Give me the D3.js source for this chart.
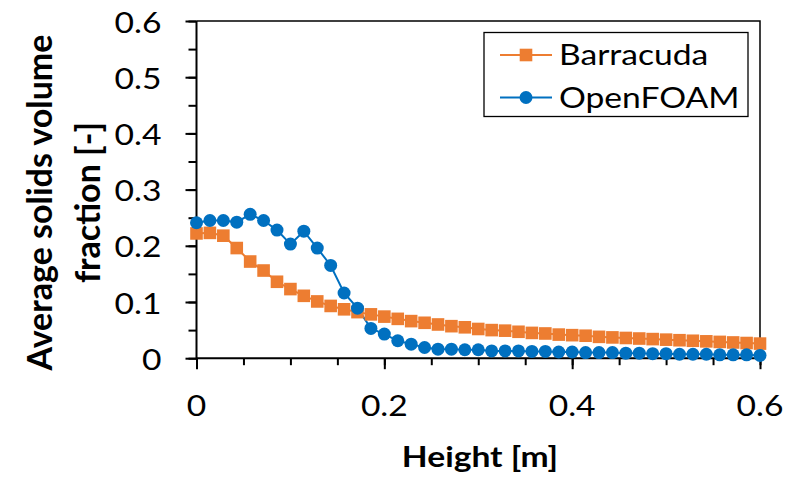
<!DOCTYPE html>
<html><head><meta charset="utf-8">
<script src="https://cdn.jsdelivr.net/npm/d3@7"></script>
<style>body{margin:0;background:#fff}svg{display:block}text{font-family:Lato,"Open Sans",sans-serif;fill:#000}</style>
</head><body><svg id="c" width="797" height="477"></svg>
<script>
const heights = d3.range(43).map(i => i / 70);
const barracuda = [0.222,0.223,0.218,0.196,0.172,0.156,0.136,0.123,0.111,0.101,0.093,0.087,0.082,0.078,0.074,0.070,0.066,0.063,0.060,0.057,0.055,0.052,0.050,0.049,0.047,0.045,0.044,0.042,0.041,0.040,0.038,0.037,0.036,0.035,0.034,0.033,0.032,0.031,0.030,0.029,0.028,0.027,0.026];
const openfoam = [0.241,0.245,0.245,0.242,0.256,0.245,0.228,0.203,0.226,0.196,0.165,0.116,0.089,0.053,0.043,0.031,0.025,0.019,0.016,0.016,0.015,0.015,0.013,0.013,0.013,0.012,0.012,0.011,0.011,0.010,0.010,0.010,0.009,0.009,0.008,0.008,0.007,0.007,0.007,0.006,0.006,0.006,0.005];
const xTicks = [0, 0.2, 0.4, 0.6];
const yTicks = [0, 0.1, 0.2, 0.3, 0.4, 0.5, 0.6];
const seriesNames = ["Barracuda", "OpenFOAM"];
const colors = ["#ED7D31", "#0070C0"];
const SX = 1.2; // horizontal stretch of the original picture's text

const svg = d3.select("#c");
svg.append("rect").attr("width",797).attr("height",477).attr("fill","#fff");
const x = d3.scaleLinear().domain([0,0.6]).range([196.5,760]);
const y = d3.scaleLinear().domain([0,0.6]).range([358.2,21]);
const fmt = d => d === 0 ? "0" : d3.format(".1f")(d);

function stext(px, py, anchor, str, size, weight){
  return svg.append("text").attr("transform",`translate(${px},${py}) scale(${SX},1)`)
    .attr("text-anchor",anchor).style("font-size",size+"px").style("font-weight",weight||"normal").text(str);
}

// plot border (top & right)
svg.append("path").attr("d",`M${x(0)},${y(0.6)}H${x(0.6)}V${y(0)}`).attr("fill","none").attr("stroke","#000").attr("stroke-width",1.5);

// ticks
const minorY = d3.range(0,0.6001,0.05);
const minorX = d3.range(0,0.6001,0.05);
svg.append("g").attr("transform",`translate(${x(0)},0)`).call(d3.axisLeft(y).tickValues(minorY).tickSize(8).tickFormat(""));
svg.append("g").attr("transform",`translate(${x(0)},0)`).call(d3.axisLeft(y).tickValues(yTicks).tickSize(11).tickFormat(""));
svg.append("g").attr("transform",`translate(0,${y(0)})`).call(d3.axisBottom(x).tickValues(minorX).tickSize(7).tickFormat(""));
svg.append("g").attr("transform",`translate(0,${y(0)})`).call(d3.axisBottom(x).tickValues(xTicks).tickSize(11).tickFormat(""));
svg.selectAll(".domain").remove();
svg.selectAll(".tick line").attr("stroke","#000").attr("stroke-width",2);
svg.append("path").attr("d",`M${x(0)},${y(0.6)}V${y(0)}H${x(0.6)}`).attr("fill","none").attr("stroke","#000").attr("stroke-width",2);

// tick labels
yTicks.forEach(t => stext(161.5, y(t)+11.5, "end", fmt(t), 28));
xTicks.forEach(t => stext(x(t), 416, "middle", fmt(t), 28));

// series
const data = [barracuda, openfoam];
const line = d3.line().x((d,i)=>x(heights[i])).y(d=>y(d));
data.forEach((s,k)=>{
  svg.append("path").datum(s).attr("d",line).attr("fill","none").attr("stroke",colors[k]).attr("stroke-width",2);
});
svg.append("g").selectAll("rect").data(barracuda).join("rect")
  .attr("x",(d,i)=>x(heights[i])-6.3).attr("y",d=>y(d)-6.3).attr("width",12.6).attr("height",12.6).attr("fill",colors[0]);
svg.append("g").selectAll("circle").data(openfoam).join("circle")
  .attr("cx",(d,i)=>x(heights[i])).attr("cy",d=>y(d)).attr("r",6.5).attr("fill",colors[1]);

// legend
svg.append("rect").attr("x",484).attr("y",32.5).attr("width",264).attr("height",84).attr("fill","#fff").attr("stroke","#000").attr("stroke-width",1.3);
const ly = [55, 97.5];
seriesNames.forEach((n,k)=>{
  svg.append("line").attr("x1",500).attr("x2",552).attr("y1",ly[k]).attr("y2",ly[k]).attr("stroke",colors[k]).attr("stroke-width",2);
  if(k===0) svg.append("rect").attr("x",526-6.3).attr("y",ly[k]-6.3).attr("width",12.6).attr("height",12.6).attr("fill",colors[k]);
  else svg.append("circle").attr("cx",526).attr("cy",ly[k]).attr("r",6.5).attr("fill",colors[k]);
  stext(559, ly[k]+10, "start", n, 28);
});

// axis titles
stext(480, 467, "middle", "Height [m]", 28, "bold");
const yt = svg.append("text").attr("transform","translate(40,202.5) rotate(-90)").attr("text-anchor","middle").style("font-size","34px").style("font-weight","bold");
yt.append("tspan").attr("x",0).attr("dy","0.36em").text("Average solids volume");
yt.append("tspan").attr("x",0).attr("dy","1.4em").text("fraction [-]");
</script></body></html>
